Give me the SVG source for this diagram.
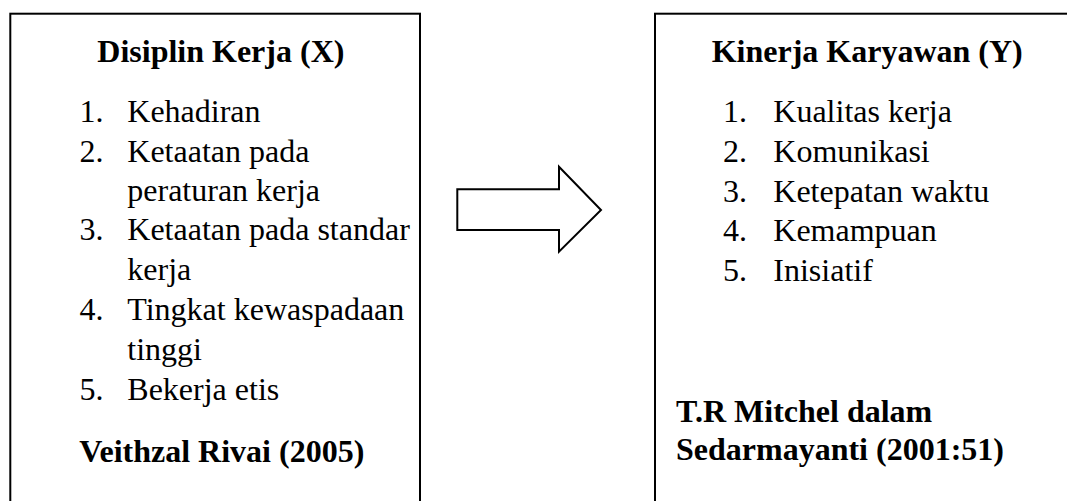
<svg xmlns="http://www.w3.org/2000/svg" width="1067" height="501" viewBox="0 0 1067 501">
<style>
.box{fill:#fff;stroke:#000;stroke-width:2}
.t{font-family:"Liberation Serif","Times New Roman",serif;font-size:32px;fill:#000}
.b{font-weight:bold}
</style>
<rect width="1067" height="501" fill="#fff"/>
<g id="node-x">
<rect class="box" x="10.3" y="13.7" width="409.7" height="520"/>
<text class="t b" x="97.3" y="61.7">Disiplin Kerja (X)</text>
<text class="t" x="79.5" y="121.7">1.</text><text class="t" x="127.3" y="121.7">Kehadiran</text>
<text class="t" x="79.5" y="161.7">2.</text><text class="t" x="127.3" y="161.7">Ketaatan pada</text>
<text class="t" x="127.3" y="200.5">peraturan kerja</text>
<text class="t" x="79.5" y="240">3.</text><text class="t" x="127.3" y="240">Ketaatan pada standar</text>
<text class="t" x="127.3" y="280">kerja</text>
<text class="t" x="79.5" y="320">4.</text><text class="t" x="127.3" y="320">Tingkat kewaspadaan</text>
<text class="t" x="127.3" y="360">tinggi</text>
<text class="t" x="79.5" y="400">5.</text><text class="t" x="127.3" y="400">Bekerja etis</text>
<text class="t b" x="79.3" y="461.7">Veithzal Rivai (2005)</text>
</g>
<g id="connectors">
<path d="M457.3 189.3 H559 V166.7 L601 210 L559 251.7 V230 H457.3 Z" fill="#fff" stroke="#000" stroke-width="2"/>
</g>
<g id="node-y">
<rect class="box" x="655" y="13.7" width="430" height="520"/>
<text class="t b" x="711.7" y="61.7">Kinerja Karyawan (Y)</text>
<text class="t" x="723" y="121.7">1.</text><text class="t" x="773.3" y="121.7">Kualitas kerja</text>
<text class="t" x="723" y="161.7">2.</text><text class="t" x="773.3" y="161.7">Komunikasi</text>
<text class="t" x="723" y="201.5">3.</text><text class="t" x="773.3" y="201.5">Ketepatan waktu</text>
<text class="t" x="723" y="241">4.</text><text class="t" x="773.3" y="241">Kemampuan</text>
<text class="t" x="723" y="280.5">5.</text><text class="t" x="773.3" y="280.5">Inisiatif</text>
<text class="t b" x="676" y="421.7">T.R Mitchel dalam</text>
<text class="t b" x="676" y="460">Sedarmayanti (2001:51)</text>
</g>
</svg>
